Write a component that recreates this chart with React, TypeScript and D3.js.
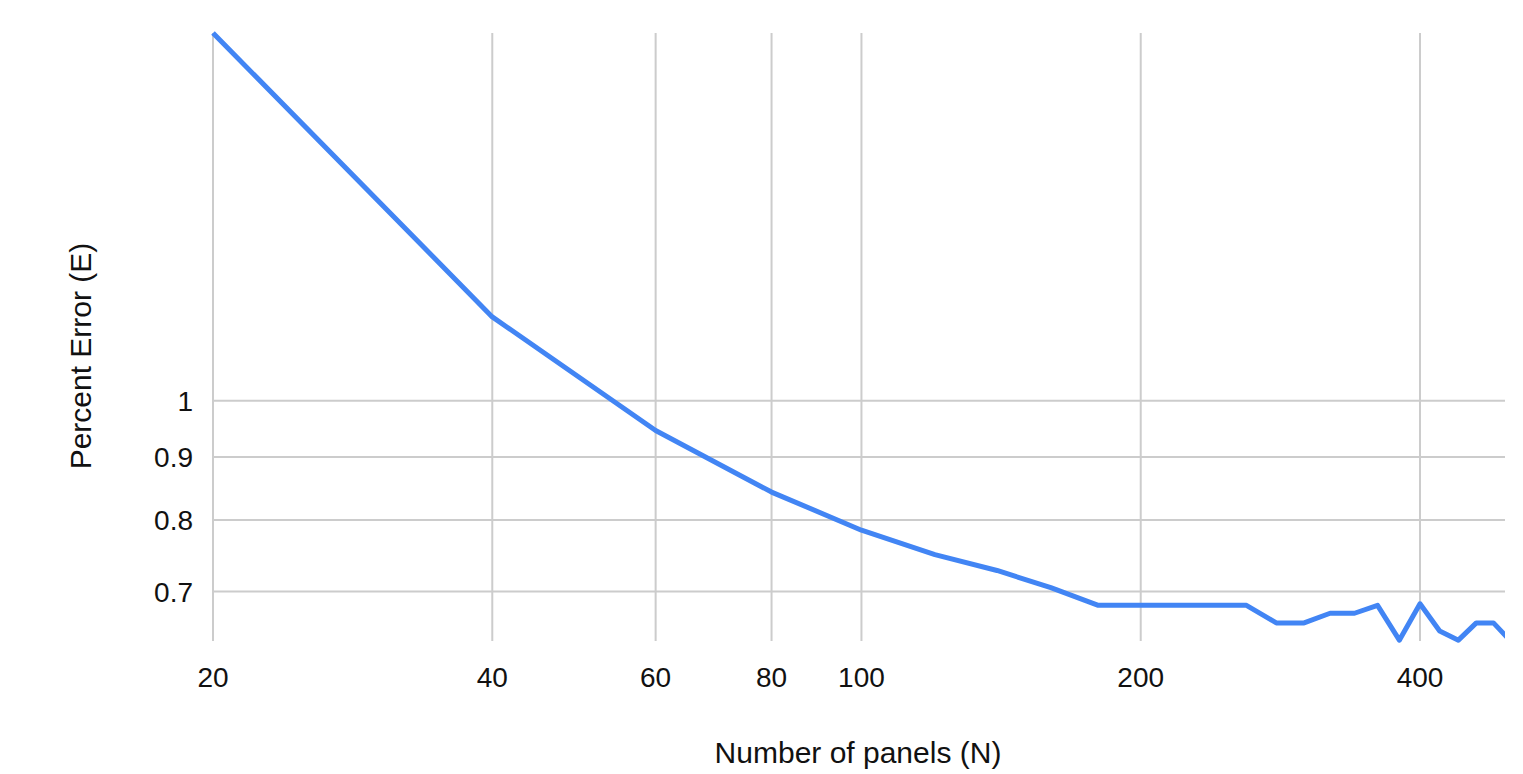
import * as d3 from "d3"

// panels count and percent error
const panels = [20, 40, 60, 80, 100, 120, 140, 160, 180, 200, 220, 240, 260, 280, 300, 320, 340, 360, 380, 400, 420, 440, 460, 480, 500]
const errors = [1.99, 1.17, 0.946, 0.843, 0.785, 0.75, 0.728, 0.705, 0.682, 0.682, 0.682, 0.682, 0.682, 0.66, 0.66, 0.672, 0.672, 0.682, 0.639, 0.684, 0.65, 0.639, 0.66, 0.66, 0.639]
const xTicks = [20, 40, 60, 80, 100, 200, 400]
const yTicks = [0.7, 0.8, 0.9, 1]

const W = 1523
const H = 774
const PLOT = { left: 213, right: 1505, top: 33, bottom: 641 }
const FONT = "Arial, 'Liberation Sans', sans-serif"

export default function App() {
  const xScale = d3.scaleLog().domain([20, 400]).range([PLOT.left, 1420])
  const yScale = d3.scaleLog().domain([0.638, 1.99]).range([PLOT.bottom, PLOT.top])

  const points = panels.map((n, i) => [n, errors[i]] as [number, number])
  const line = d3
    .line<[number, number]>()
    .x((d) => xScale(d[0]))
    .y((d) => yScale(d[1]))

  return (
    <svg
      width={W}
      height={H}
      style={{ position: "absolute", left: 0, top: 0, background: "#fff" }}
    >
      <defs>
        <clipPath id="plot">
          <rect x={PLOT.left - 4} y={PLOT.top - 4} width={PLOT.right - PLOT.left + 4} height={PLOT.bottom - PLOT.top + 8} />
        </clipPath>
      </defs>
      {yTicks.map((t) => (
        <g key={t}>
          <line x1={PLOT.left} x2={PLOT.right} y1={yScale(t)} y2={yScale(t)} stroke="#cccccc" strokeWidth={2} />
          <text x={193} y={yScale(t)} dy="0.36em" textAnchor="end" fontSize={28} fontFamily={FONT} fill="#111">
            {t}
          </text>
        </g>
      ))}
      {xTicks.map((t) => (
        <g key={t}>
          <line x1={xScale(t)} x2={xScale(t)} y1={PLOT.top} y2={PLOT.bottom} stroke="#cccccc" strokeWidth={2} />
          <text x={xScale(t)} y={687} textAnchor="middle" fontSize={28} fontFamily={FONT} fill="#111">
            {t}
          </text>
        </g>
      ))}
      <path
        d={line(points) ?? ""}
        fill="none"
        stroke="#4285f4"
        strokeWidth={5}
        strokeLinejoin="round"
        clipPath="url(#plot)"
      />
      <text x={858} y={763} textAnchor="middle" fontSize={30} fontFamily={FONT} fill="#111">
        Number of panels (N)
      </text>
      <text
        transform={`translate(91, 356) rotate(-90)`}
        textAnchor="middle"
        fontSize={30}
        fontFamily={FONT}
        fill="#111"
      >
        Percent Error (E)
      </text>
    </svg>
  )
}
